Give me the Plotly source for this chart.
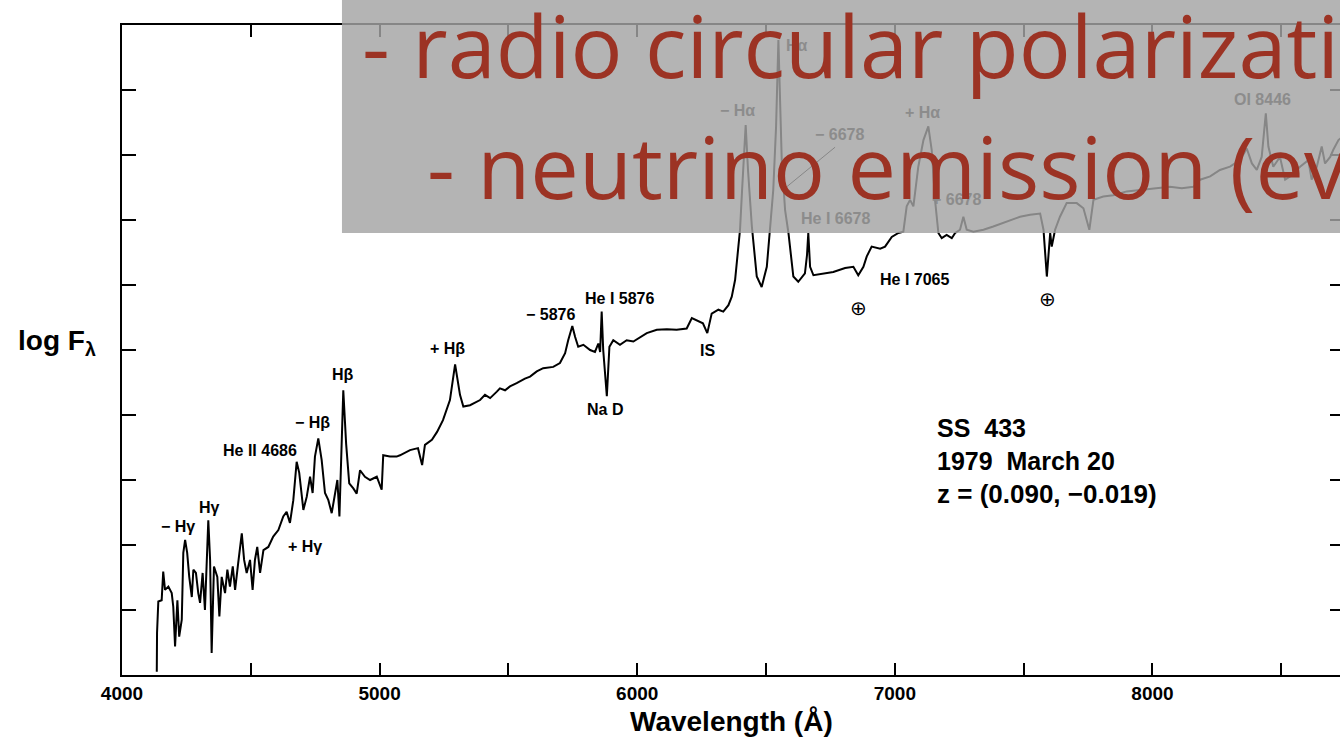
import plotly.graph_objects as go

# ---------------- data ----------------
wavelength = [4135, 4136, 4141, 4154, 4160, 4167, 4180, 4193, 4199, 4206, 4215, 4222, 4232, 4238, 4245,
              4253, 4261, 4271, 4277, 4287, 4296, 4303, 4313, 4322, 4335, 4342, 4348, 4357, 4370, 4378,
              4387, 4400, 4409, 4419, 4430, 4439, 4451, 4465, 4474, 4484, 4497, 4507, 4516, 4525, 4536,
              4549, 4568, 4587, 4607, 4626, 4639, 4652, 4665, 4678, 4688, 4704, 4717, 4730, 4740, 4749,
              4762, 4775, 4788, 4801, 4814, 4827, 4836, 4844, 4850, 4859, 4870, 4882, 4898, 4911, 4924,
              4943, 4963, 4989, 5008, 5014, 5040, 5066, 5079, 5118, 5149, 5165, 5176, 5203, 5223, 5246,
              5273, 5293, 5312, 5325, 5351, 5390, 5409, 5429, 5455, 5467, 5487, 5506, 5532, 5564, 5584,
              5610, 5635, 5674, 5700, 5720, 5732, 5748, 5759, 5771, 5791, 5817, 5836, 5849, 5856, 5862,
              5868, 5882, 5892, 5907, 5933, 5959, 5985, 6011, 6037, 6076, 6115, 6153, 6192, 6212, 6236,
              6255, 6272, 6289, 6315, 6334, 6354, 6367, 6380, 6392, 6399, 6407, 6421, 6430, 6445, 6464,
              6483, 6503, 6516, 6528, 6539, 6548, 6561, 6574, 6587, 6606, 6625, 6651, 6659, 6664, 6671,
              6684, 6761, 6807, 6839, 6858, 6878, 6891, 6910, 6943, 6962, 6988, 7014, 7033, 7046, 7059,
              7072, 7091, 7111, 7130, 7143, 7156, 7169, 7182, 7201, 7221, 7234, 7253, 7266, 7279, 7305,
              7344, 7382, 7434, 7486, 7525, 7564, 7577, 7590, 7603, 7609, 7622, 7641, 7667, 7706, 7732,
              7755, 7771, 7809, 7848, 7900, 7952, 8017, 8068, 8114, 8159, 8185, 8224, 8262, 8301, 8340,
              8366, 8386, 8405, 8424, 8440, 8450, 8469, 8495, 8515, 8534, 8573, 8605, 8618, 8638, 8657,
              8670, 8690, 8702, 8722, 8748]
log_flux = [0.05, 0.65, 1.13, 1.15, 1.59, 1.31, 1.36, 1.26, 1.05, 0.44, 1.15, 0.59, 0.85, 1.88, 2.08,
            1.88, 1.51, 1.20, 1.62, 1.57, 1.26, 1.11, 1.57, 1.00, 2.38, 1.77, 0.34, 1.67, 1.51, 0.90,
            1.51, 1.26, 1.62, 1.36, 1.67, 1.31, 1.72, 2.18, 1.77, 1.57, 1.77, 1.31, 1.77, 1.97, 1.57,
            1.92, 1.97, 2.13, 2.23, 2.44, 2.51, 2.34, 2.69, 3.28, 3.11, 2.54, 2.74, 3.05, 2.80, 3.36,
            3.64, 3.31, 2.80, 2.69, 2.49, 2.80, 3.00, 2.44, 3.31, 4.38, 3.56, 2.95, 2.87, 2.79, 3.15,
            3.05, 3.00, 3.05, 2.85, 3.38, 3.36, 3.36, 3.38, 3.46, 3.49, 3.23, 3.54, 3.62, 3.74, 3.92,
            4.23, 4.78, 4.31, 4.13, 4.15, 4.23, 4.31, 4.26, 4.36, 4.41, 4.38, 4.44, 4.49, 4.56, 4.59,
            4.67, 4.72, 4.74, 4.80, 4.95, 5.15, 5.37, 5.20, 5.05, 5.08, 5.00, 4.97, 5.10, 4.97, 5.59,
            5.00, 4.29, 5.05, 5.15, 5.08, 5.15, 5.13, 5.20, 5.26, 5.31, 5.32, 5.31, 5.33, 5.49, 5.45,
            5.41, 5.26, 5.56, 5.62, 5.59, 5.69, 5.82, 6.08, 6.54, 6.85, 7.46, 8.46, 7.77, 6.90, 6.13,
            5.97, 6.28, 6.90, 7.46, 8.44, 9.77, 7.92, 7.15, 6.80, 6.13, 6.05, 6.18, 6.46, 6.80, 6.28,
            6.15, 6.20, 6.26, 6.28, 6.15, 6.28, 6.44, 6.59, 6.56, 6.59, 6.74, 6.80, 6.82, 7.21, 7.31,
            7.21, 7.82, 8.23, 8.44, 8.08, 7.31, 6.80, 6.72, 6.77, 6.72, 6.80, 6.85, 7.05, 6.85, 6.82,
            6.85, 6.90, 6.97, 7.05, 7.08, 7.10, 6.85, 6.13, 6.80, 6.59, 6.85, 7.05, 7.26, 7.26, 7.18,
            6.85, 7.31, 7.36, 7.38, 7.44, 7.46, 7.49, 7.51, 7.49, 7.51, 7.62, 7.67, 7.77, 7.82, 7.92,
            8.10, 7.87, 7.77, 7.97, 8.64, 8.13, 7.82, 7.97, 7.62, 7.67, 7.82, 7.92, 7.62, 7.82, 8.13,
            7.87, 7.97, 8.08, 8.23, 8.31]

x_tick_values = [4000, 4500, 5000, 5500, 6000, 6500, 7000, 7500, 8000, 8500]
x_tick_labels = ["4000", "", "5000", "", "6000", "", "7000", "", "8000", ""]
y_tick_values = [1, 2, 3, 4, 5, 6, 7, 8, 9]

# line identifications: (text, wavelength, log flux, faded under the overlay?)
line_labels = [
    ("− Hγ", 4217, 2.28, False),
    ("Hγ", 4338, 2.58, False),
    ("+ Hγ", 4710, 1.97, False),
    ("He II 4686", 4536, 3.45, False),
    ("− Hβ", 4738, 3.89, False),
    ("Hβ", 4858, 4.62, False),
    ("+ Hβ", 5262, 5.03, False),
    ("− 5876", 5665, 5.55, False),
    ("He I 5876", 5933, 5.80, False),
    ("Na D", 5875, 4.08, False),
    ("IS", 6271, 5.00, False),
    ("He I 7065", 7078, 6.09, False),
    ("Hα", 6620, 9.69, True),
    ("− Hα", 6391, 8.68, True),
    ("− 6678", 6787, 8.32, True),
    ("+ Hα", 7106, 8.65, True),
    ("He I 6678", 6768, 7.02, True),
    ("+ 6678", 7241, 7.32, True),
    ("OI 8446", 8429, 8.85, True),
]
telluric_marks = [(6857, 5.65), (7591, 5.78)]
leader_line = [(6768, 8.12), (6580, 7.51)]

info_lines = ["SS\u00a0\u00a0433", "1979\u00a0\u00a0March 20", "z = (0.090, −0.019)"]
slide_lines = ["- radio circular polarization", "- neutrino emission (evidence)"]

# ---------------- figure ----------------
LAB_FONT = "Liberation Sans, Arial, sans-serif"

fig = go.Figure()
fig.add_trace(go.Scatter(x=wavelength, y=log_flux, mode="lines",
                         line=dict(color="black", width=2),
                         showlegend=False, hoverinfo="skip"))
fig.add_trace(go.Scatter(x=[None], y=[None], yaxis="y2", mode="lines",
                         showlegend=False, hoverinfo="skip"))

annotations = []
for text, wl, fl, faded in line_labels:
    annotations.append(dict(x=wl, y=fl, xref="x", yref="y", text="<b>%s</b>" % text,
                            showarrow=False, xanchor="center", yanchor="middle",
                            font=dict(family=LAB_FONT, size=16,
                                      color="#8c8c8c" if faded else "black")))
for wl, fl in telluric_marks:
    annotations.append(dict(x=wl, y=fl, xref="x", yref="y", text="⊕", showarrow=False,
                            font=dict(family="DejaVu Sans", size=20, color="black")))

info_y = [0.380, 0.329, 0.278]
info_size = [25, 25, 26]
for t, yy, sz in zip(info_lines, info_y, info_size):
    annotations.append(dict(x=0.6675, y=yy, xref="paper", yref="paper", text="<b>%s</b>" % t,
                            showarrow=False, xanchor="left", yanchor="middle",
                            font=dict(family=LAB_FONT, size=sz, color="black")))

annotations.append(dict(x=0.5, y=-0.072, xref="paper", yref="paper",
                        text="<b>Wavelength (Å)</b>", showarrow=False,
                        xanchor="center", yanchor="middle",
                        font=dict(family=LAB_FONT, size=28, color="black")))
annotations.append(dict(x=-0.087, y=0.512, xref="paper", yref="paper",
                        text="<b>log F<sub>λ</sub></b>", showarrow=False,
                        xanchor="left", yanchor="middle",
                        font=dict(family=LAB_FONT, size=28, color="black")))

slide_x = [0.1956, 0.2490]
slide_y = [0.970, 0.784]
for t, xx, yy in zip(slide_lines, slide_x, slide_y):
    annotations.append(dict(x=xx, y=yy, xref="paper", yref="paper", text=t,
                            showarrow=False, xanchor="left", yanchor="middle",
                            font=dict(family="Open Sans", size=86.5, color="#9c3324")))

shapes = [
    dict(type="line", xref="x", yref="y",
         x0=leader_line[0][0], y0=leader_line[0][1], x1=leader_line[1][0], y1=leader_line[1][1],
         line=dict(color="black", width=1), layer="below"),
    dict(type="rect", xref="paper", yref="paper", x0=0.1806, x1=1.0, y0=0.68, y1=1.05,
         fillcolor="rgba(163,164,163,0.82)", line=dict(width=0), layer="above"),
]

fig.update_layout(
    width=1340, height=738,
    margin=dict(l=122, r=0, t=25, b=63),
    paper_bgcolor="white", plot_bgcolor="white",
    showlegend=False,
    xaxis=dict(range=[4000, 8728], tickmode="array", tickvals=x_tick_values,
               ticktext=["<b>%s</b>" % t if t else "" for t in x_tick_labels],
               ticks="inside", ticklen=12, tickwidth=2, tickcolor="black",
               showline=True, linewidth=2, linecolor="black", mirror="ticks",
               showgrid=False, zeroline=False,
               tickfont=dict(family=LAB_FONT, size=19, color="black")),
    yaxis=dict(range=[0, 10], tickmode="array", tickvals=y_tick_values,
               ticks="inside", ticklen=14, tickwidth=2, tickcolor="black",
               showticklabels=False, showline=True, linewidth=2, linecolor="black",
               showgrid=False, zeroline=False),
    yaxis2=dict(range=[0, 10], overlaying="y", side="right", tickmode="array",
                tickvals=y_tick_values, ticks="inside", ticklen=10, tickwidth=2,
                tickcolor="black", showticklabels=False, showline=False,
                showgrid=False, zeroline=False),
    annotations=annotations,
    shapes=shapes,
)

fig.write_html("out.html")
